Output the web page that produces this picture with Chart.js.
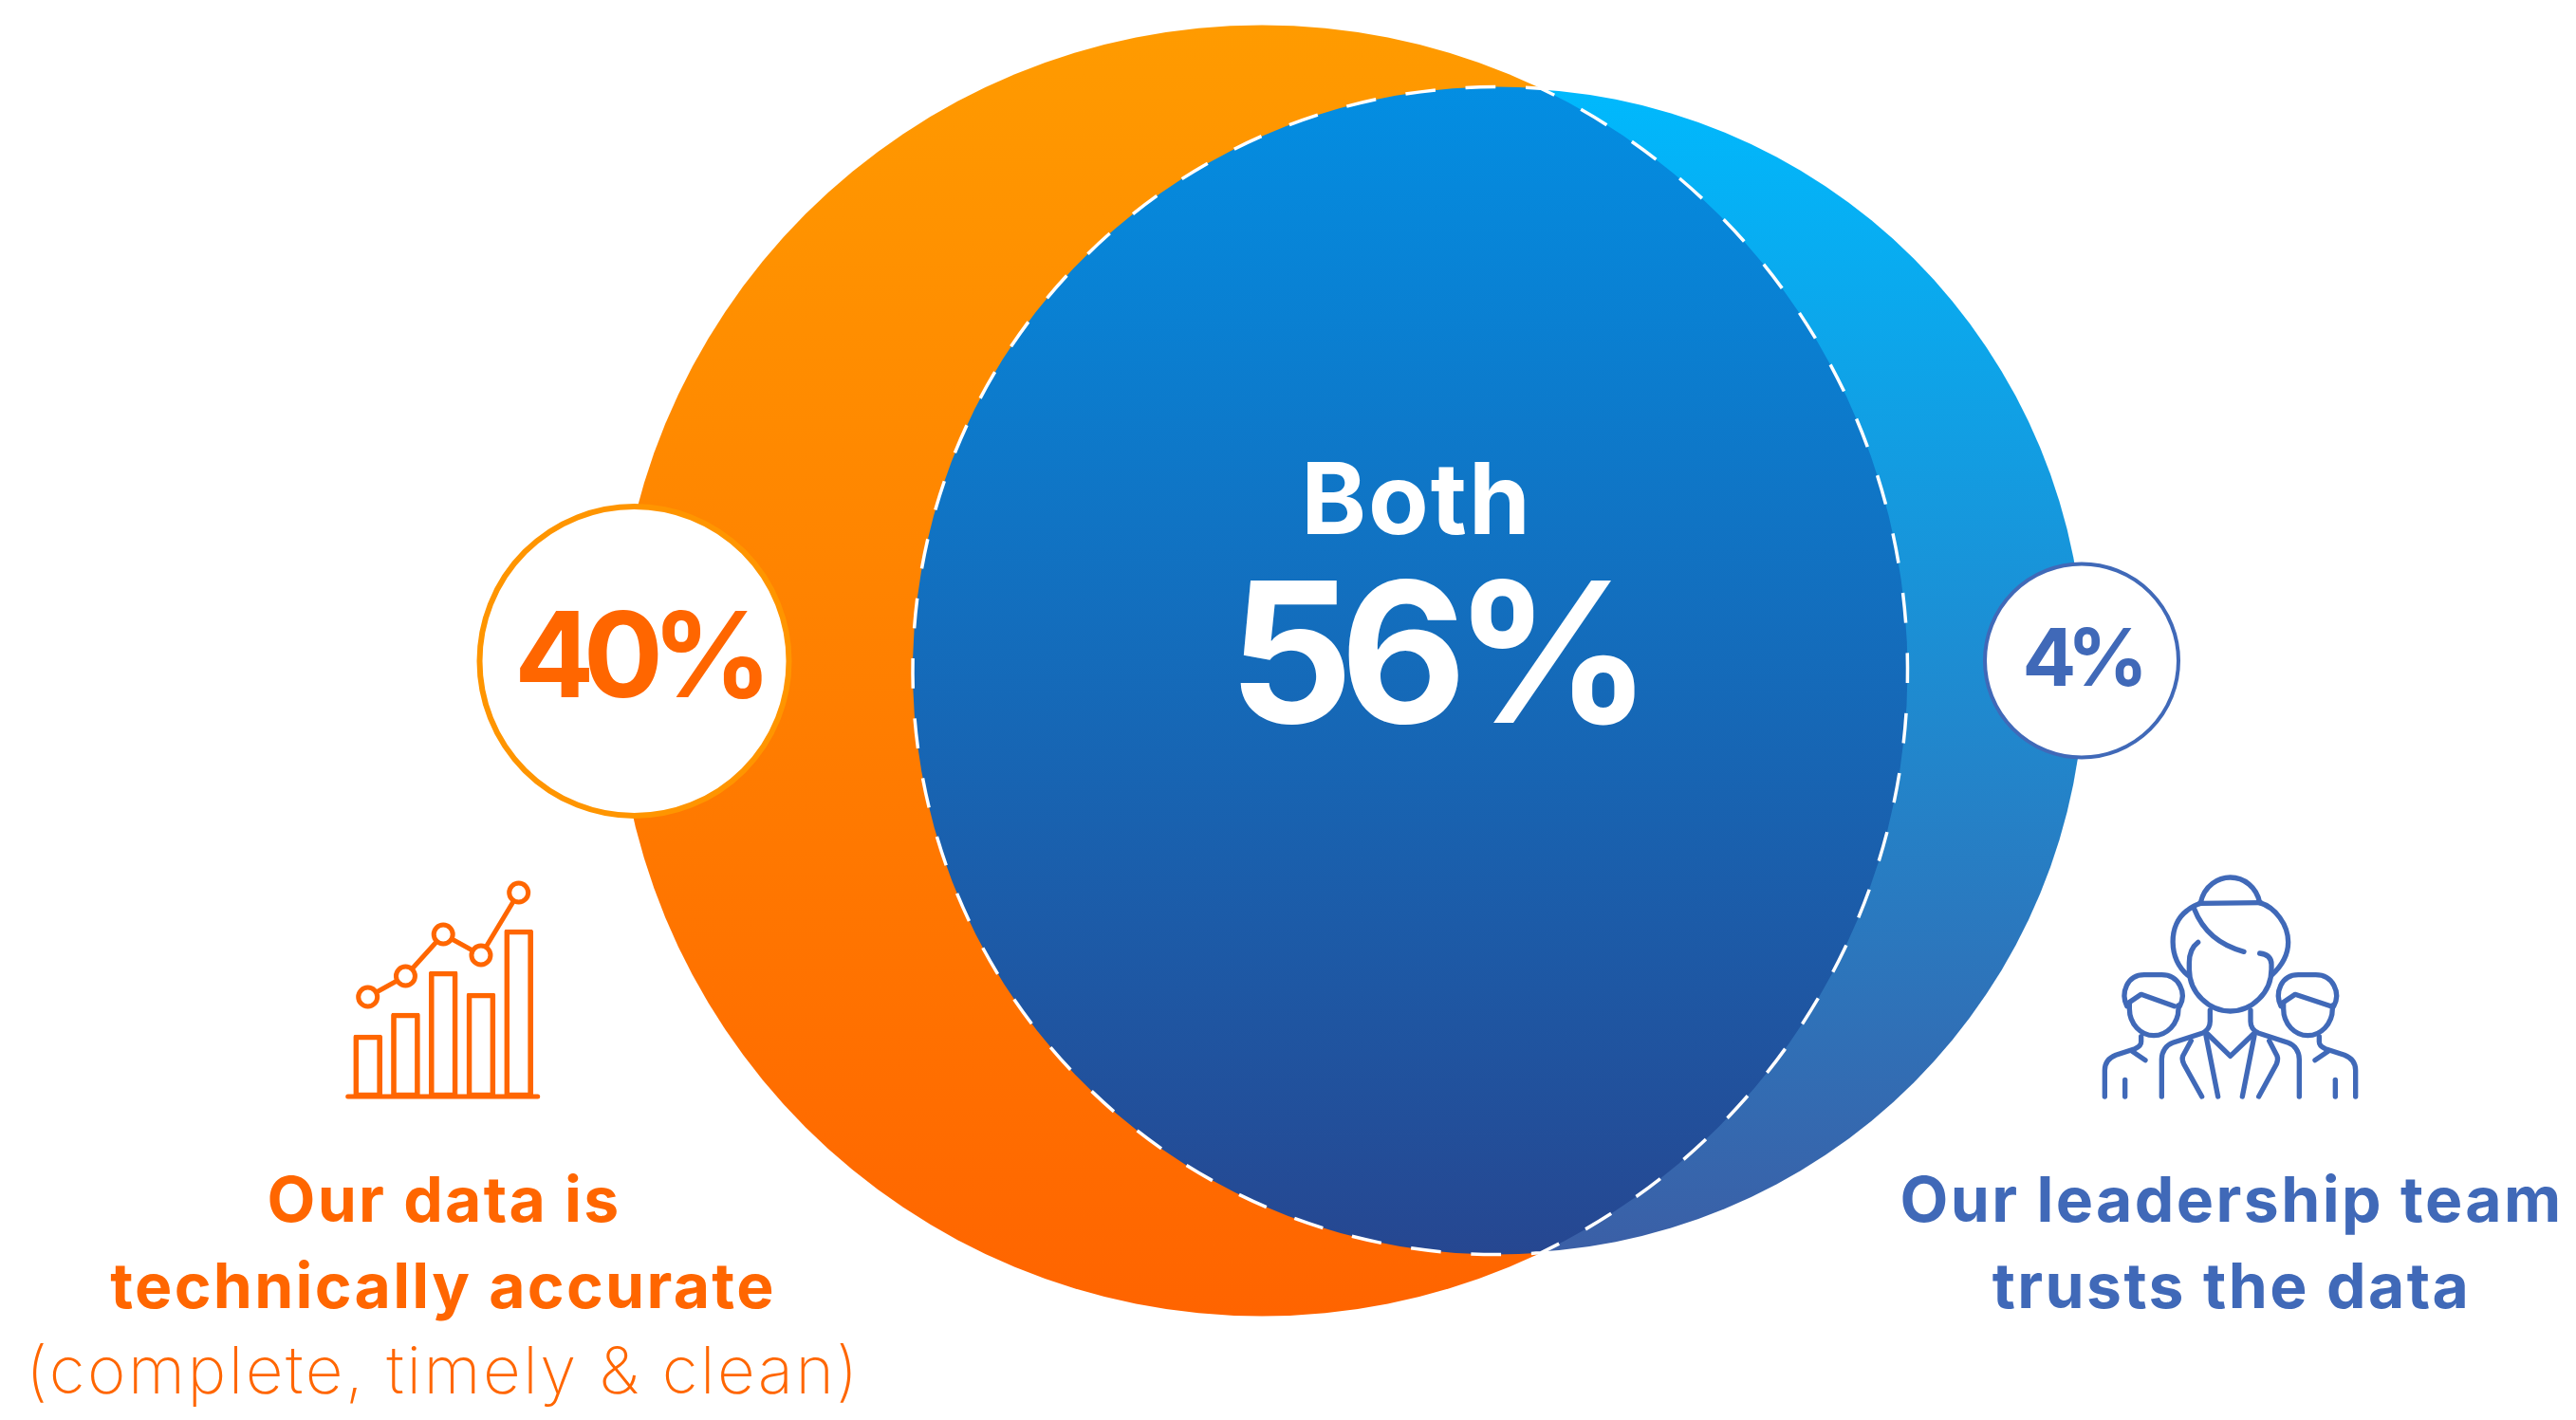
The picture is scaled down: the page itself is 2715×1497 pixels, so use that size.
<!DOCTYPE html>
<html>
<head>
<meta charset="utf-8">
<title>Data trust</title>
<script src="https://cdn.jsdelivr.net/npm/chart.js@4"></script>
<style>
  html, body { margin: 0; padding: 0; background: #fff; }
  canvas { display: block; }
</style>
</head>
<body>
<canvas id="venn" width="2715" height="1497"></canvas>
<script>
// Survey shares
const shareValues = [40, 56, 4];
const bothLabel = 'Both';
const leftLines = ['Our data is', 'technically accurate'];
const leftNote = '(complete, timely & clean)';
const rightLines = ['Our leadership team', 'trusts the data'];

// Small bar + line pictogram
const iconBarValues = [66, 89, 133, 110, 177];
const iconLineValues = [106, 128, 172, 150, 216];

const ORANGE_TEXT = '#ff6600';
const BLUE_TEXT = '#4069b8';
const FONT = 'Inter, "Noto Sans", sans-serif';

// Canvas layout, one axis unit is one pixel
const WIDTH = 2715, HEIGHT = 1497;
const orangeSet = { x: 1330, y: 707, r: 680.5 };
const blueSet = { x: 1583, y: 707, r: 614 };
const lensArc = { x: 1577.5, y: 707, r: 615.5 };
const leftBadge = { x: 668.5, y: 697, r: 163 };
const rightBadge = { x: 2194, y: 696.5, r: 102 };
const iconBaseY = 1157, iconStartX = 387.7, iconStepX = 39.75;
const DASH = [31.75, 31.75];

const canvas = document.getElementById('venn');
const ctx = canvas.getContext('2d');

function verticalGradient(top, bottom, from, to) {
    const g = ctx.createLinearGradient(0, top, 0, bottom);
    g.addColorStop(0, from);
    g.addColorStop(1, to);
    return g;
}

const iconX = i => iconStartX + i * iconStepX;
const lensFill = verticalGradient(lensArc.y - lensArc.r, lensArc.y + lensArc.r, '#038ee2', '#264791');

// Overlap of the two sets, dashed on its rim
const lensPlugin = {
    id: 'lens',
    afterDatasetDraw(chart, args) {
        if (args.index !== 1) return;
        const c = chart.ctx;
        const big = chart.getDatasetMeta(2).data[0];
        const sx = chart.scales.x.getPixelForValue(lensArc.x);
        const sy = chart.scales.y.getPixelForValue(lensArc.y);
        const R = big.options.radius, r = lensArc.r;
        const d = sx - big.x;
        const a = (d * d + R * R - r * r) / (2 * d);
        const h = Math.sqrt(R * R - a * a);
        c.save();
        c.beginPath();
        c.arc(big.x, big.y, R, -Math.atan2(h, a), Math.atan2(h, a));
        c.arc(sx, sy, r, Math.atan2(h, a - d), Math.atan2(-h, a - d));
        c.closePath();
        c.fillStyle = lensFill;
        c.fill();
        c.strokeStyle = '#fff';
        c.lineWidth = 3.5;
        c.setLineDash(DASH);
        c.lineDashOffset = 15.75;
        c.stroke();
        c.restore();
    }
};

function drawText(c, text, x, y, font, color, spacing) {
    c.font = font + ' ' + FONT;
    c.fillStyle = color;
    c.letterSpacing = (spacing || 0) + 'px';
    c.textAlign = 'center';
    c.textBaseline = 'alphabetic';
    c.fillText(text, x, y);
}

// Three-person pictogram, outlined in its own 960 x 840 box
const peoplePaths = [
    'M388 155 C400 100 445 75 482 75 C525 75 565 105 575 155',
    'M385 157 L578 155',
    'M348 385 C285 330 285 225 345 180 C360 168 375 160 388 157',
    'M575 155 C625 170 665 225 665 280 C665 320 645 355 612 385',
    'M368 175 C395 245 450 290 525 310',
    'M380 280 C360 295 352 320 352 345 L352 365 C352 440 415 498 482 498 C550 498 612 440 612 365 L612 350 C612 330 600 318 575 315',
    'M418 495 L418 530 C418 550 408 560 395 567 L300 598 C280 605 265 625 265 650 L265 768',
    'M546 495 L546 530 C546 550 556 560 570 567 L665 598 C685 605 700 625 700 650 L700 768',
    'M410 570 L482 640 L555 570',
    'M405 575 L443 768',
    'M558 575 L520 768',
    'M358 592 L332 640 C328 650 330 655 335 665 L392 768',
    'M605 592 L630 640 C634 650 632 655 628 665 L572 768',
    // left colleague
    'M155 482 C135 440 155 383 210 383 L265 383 C320 383 345 440 322 482',
    'M160 472 L200 445 L305 482',
    'M163 475 L163 490 C163 540 200 575 240 575 C280 575 318 540 318 490 L318 480',
    'M200 578 L200 595 C200 608 190 613 180 617 L120 637 C100 645 85 660 85 685 L85 768',
    'M172 625 L213 653',
    'M149 715 L149 768',
    // right colleague
    'M642 482 C622 440 642 383 697 383 L752 383 C807 383 832 440 809 482',
    'M647 472 L687 445 L800 482',
    'M650 475 L650 490 C650 540 687 575 727 575 C767 575 805 540 805 490 L805 480',
    'M763 578 L763 595 C763 608 773 613 783 617 L843 637 C863 645 878 660 878 685 L878 768',
    'M791 625 L750 653',
    'M814 715 L814 768'
];

const decorPlugin = {
    id: 'decor',
    afterDatasetsDraw(chart) {
        const c = chart.ctx;
        c.save();

        drawText(c, bothLabel, 1493, 563, '700 104px', '#fff', 2);
        drawText(c, shareValues[1] + '%', 1511, 762, '700 206px', '#fff', -14);
        drawText(c, shareValues[0] + '%', 672, 735, '700 125px', ORANGE_TEXT, -12);
        drawText(c, shareValues[2] + '%', 2193, 723, '700 84px', BLUE_TEXT, -9.5);

        drawText(c, leftLines[0], 468, 1288, '700 66px', ORANGE_TEXT, 2.3);
        drawText(c, leftLines[1], 467, 1379, '700 66px', ORANGE_TEXT, 2.3);
        drawText(c, leftNote, 467, 1469, '250 69px', ORANGE_TEXT, 2.5);
        drawText(c, rightLines[0], 2352, 1288, '700 66px', BLUE_TEXT, 2.4);
        drawText(c, rightLines[1], 2352, 1379, '700 66px', BLUE_TEXT, 2.4);

        c.translate(2190, 900);
        c.scale(1 / 3, 1 / 3);
        c.strokeStyle = BLUE_TEXT;
        c.lineWidth = 16;
        c.lineCap = 'round';
        c.lineJoin = 'round';
        peoplePaths.forEach(p => c.stroke(new Path2D(p)));
        c.restore();
    }
};

new Chart(ctx, {
    type: 'bubble',
    data: {
        datasets: [
            {
                // Share badges
                data: [leftBadge, rightBadge],
                order: 1,
                backgroundColor: '#fff',
                borderColor: ['#ff9500', BLUE_TEXT],
                borderWidth: [6, 4]
            },
            {
                data: [blueSet],
                order: 2,
                backgroundColor: verticalGradient(blueSet.y - blueSet.r, blueSet.y + blueSet.r, '#00b9fd', '#3b5fa6'),
                borderWidth: 0
            },
            {
                data: [orangeSet],
                order: 3,
                backgroundColor: verticalGradient(orangeSet.y - orangeSet.r, orangeSet.y + orangeSet.r, '#ff9b00', '#ff6400'),
                borderWidth: 0
            },
            {
                type: 'line',
                data: iconLineValues.map((v, i) => ({ x: iconX(i), y: iconBaseY - v })),
                order: 4,
                borderColor: ORANGE_TEXT,
                borderWidth: 5,
                tension: 0,
                pointRadius: 10,
                pointBorderWidth: 5,
                pointBackgroundColor: '#fff',
                pointBorderColor: ORANGE_TEXT
            },
            {
                type: 'bar',
                data: iconBarValues.map((v, i) => ({ x: iconX(i), y: iconBaseY - v })),
                order: 5,
                base: iconBaseY,
                barThickness: 30,
                grouped: false,
                backgroundColor: 'transparent',
                borderColor: ORANGE_TEXT,
                borderWidth: 5,
                borderRadius: 2,
                borderSkipped: false
            },
            {
                // Pictogram floor
                type: 'line',
                data: [{ x: iconX(0) - 21, y: iconBaseY - 1 }, { x: iconX(4) + 20, y: iconBaseY - 1 }],
                order: 6,
                borderColor: ORANGE_TEXT,
                borderWidth: 5,
                borderCapStyle: 'round',
                pointRadius: 0
            }
        ]
    },
    options: {
        responsive: false,
        animation: false,
        devicePixelRatio: 1,
        layout: { padding: 0, autoPadding: false },
        plugins: { legend: { display: false }, tooltip: { enabled: false } },
        scales: {
            x: { type: 'linear', display: false, min: 0, max: WIDTH, offset: false },
            y: { type: 'linear', display: false, min: 0, max: HEIGHT, reverse: true }
        }
    },
    plugins: [lensPlugin, decorPlugin]
});
</script>
</body>
</html>
